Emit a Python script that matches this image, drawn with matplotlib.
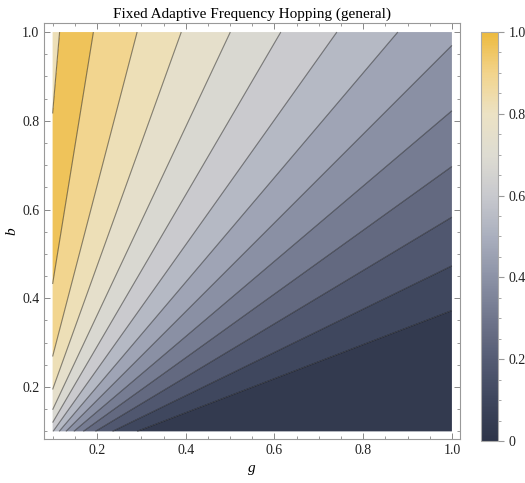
import numpy as np
import matplotlib
matplotlib.use("Agg")
import matplotlib.pyplot as plt
from matplotlib.colors import LinearSegmentedColormap, Normalize
from matplotlib.cm import ScalarMappable
from matplotlib.ticker import MultipleLocator

plt.rcParams['font.family'] = ['Liberation Serif', 'DejaVu Serif']

# contour lines, as polar angles (deg) seen from (g, b) = (0.03, 0)
contour_angles = [21.0, 26.0, 31.0, 35.7, 40.3, 45.0, 49.7, 54.6, 59.7, 64.8, 70.2, 75.4, 80.8]
ridge_angle = 85.1        # beyond this the surface drops back into a lower band
ridge_drop_value = 72.5

g_range = (0.1, 1.0)
b_range = (0.1, 1.0)
x_ticks = [0.2, 0.4, 0.6, 0.8, 1.0]
y_ticks = [0.2, 0.4, 0.6, 0.8, 1.0]
cbar_ticks = [0, 0.2, 0.4, 0.6, 0.8, 1.0]
cbar_labels = ['0', '0.2', '0.4', '0.6', '0.8', '1.0']

# colour gradient sampled from the legend bar
grad_pos = [0.0, 0.1, 0.2, 0.3, 0.4, 0.5, 0.6, 0.7, 0.8, 0.9, 1.0]
grad_rgb = [(45, 52, 72), (62, 70, 93), (85, 92, 116), (112, 118, 140), (140, 146, 166),
            (170, 175, 190), (200, 201, 206), (222, 220, 210), (236, 226, 196),
            (242, 212, 140), (237, 186, 62)]

cmap = LinearSegmentedColormap.from_list(
    'm10', [(p, tuple(c / 255 for c in rgb)) for p, rgb in zip(grad_pos, grad_rgb)])

g = np.linspace(g_range[0], g_range[1], 800)
b = np.linspace(b_range[0], b_range[1], 800)
G, B = np.meshgrid(g, b)
theta = np.degrees(np.arctan2(B, G - 0.03))
Z = np.where(theta > ridge_angle, ridge_drop_value, theta)

bounds = [0.0] + contour_angles + [90.0]
n_bands = len(bounds) - 1
band_colors = [cmap((k + 0.5) / n_bands) for k in range(n_bands)]

fig = plt.figure(figsize=(5.25, 4.83), dpi=100)
ax = fig.add_axes([0.0844, 0.0911, 0.7916, 0.8609])
ax.contourf(G, B, Z, levels=bounds, colors=band_colors, antialiased=True)
# lines: regular levels only below the ridge, then one line for the ridge itself
line_kw = dict(colors='black', linewidths=0.8, alpha=0.45)
ax.contour(G, B, np.ma.masked_where(theta > ridge_angle, theta), levels=contour_angles, **line_kw)
ax.contour(G, B, theta, levels=[ridge_angle], **line_kw)

ax.set_xlim(0.0813, 1.018)
ax.set_ylim(0.0828, 1.02)
ax.set_xticks(x_ticks)
ax.set_yticks(y_ticks)
ax.set_xticklabels([f'{t:.1f}' for t in x_ticks])
ax.set_yticklabels([f'{t:.1f}' for t in y_ticks])
ax.xaxis.set_minor_locator(MultipleLocator(0.05))
ax.yaxis.set_minor_locator(MultipleLocator(0.05))
ax.tick_params(which='both', direction='in', color='#888888', labelsize=10,
               labelcolor='#222222', top=True, right=True)
ax.tick_params(which='major', length=4, width=0.7)
ax.tick_params(which='minor', length=2, width=0.6)
for s in ax.spines.values():
    s.set_color('#999999')
    s.set_linewidth(0.8)

ax.set_xlabel('g', fontsize=11, style='italic', labelpad=4)
ax.set_ylabel('b', fontsize=11, style='italic', labelpad=3)
ax.set_title('Fixed Adaptive Frequency Hopping (general)', fontsize=11, pad=4)

cax = fig.add_axes([0.916, 0.087, 0.033, 0.847])
sm = ScalarMappable(norm=Normalize(0, 1), cmap=cmap)
cb = fig.colorbar(sm, cax=cax, ticks=cbar_ticks)
cb.set_ticklabels(cbar_labels)
cb.outline.set_edgecolor('#aaaaaa')
cb.outline.set_linewidth(0.8)
cax.yaxis.set_minor_locator(MultipleLocator(0.05))
cax.tick_params(which='both', direction='out', color='#999999', labelsize=10, labelcolor='#222222')
cax.tick_params(which='major', length=4)
cax.tick_params(which='minor', length=2)

fig.savefig('out.png', dpi=100)
